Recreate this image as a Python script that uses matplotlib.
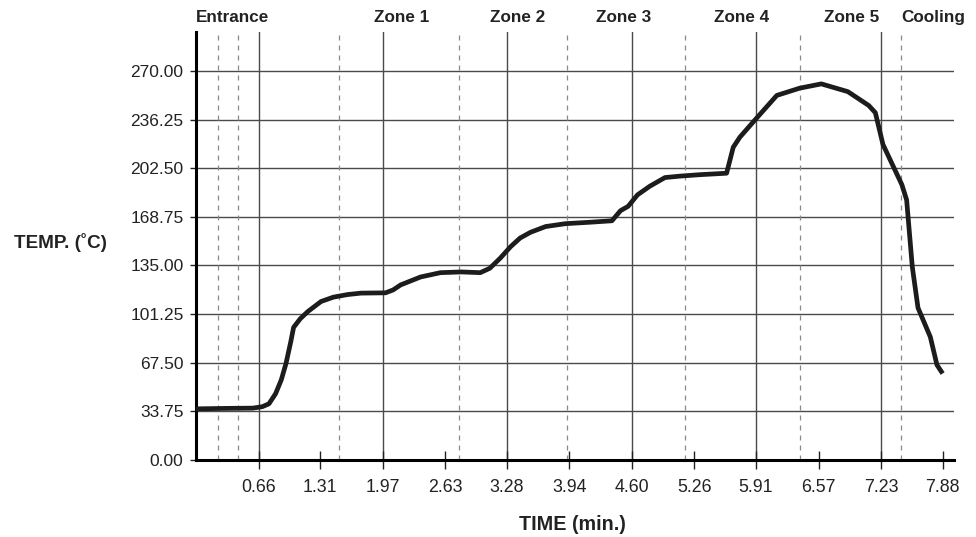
import matplotlib.pyplot as plt
from matplotlib.transforms import blended_transform_factory

plt.rcParams['font.family'] = ['Liberation Sans', 'DejaVu Sans']

# reflow profile
time_min = [0.0, 0.3, 0.6, 0.7, 0.77, 0.84, 0.9, 0.95, 1.0, 1.03, 1.1, 1.18, 1.32,
            1.45, 1.6, 1.74, 2.0, 2.08, 2.16, 2.37, 2.58, 2.8, 3.0, 3.1, 3.21,
            3.32, 3.42, 3.53, 3.69, 3.9, 4.16, 4.39, 4.48, 4.56, 4.66, 4.79,
            4.95, 5.11, 5.32, 5.6, 5.67, 5.74, 5.9, 6.13, 6.37, 6.6, 6.88,
            7.1, 7.17, 7.25, 7.45, 7.5, 7.56, 7.62, 7.75, 7.82, 7.88]
temp_c = [35.5, 35.8, 36.0, 37.0, 39.0, 46.0, 55.6, 67.0, 82.0, 92.0, 98.0, 103.0, 110.0,
          113.0, 114.8, 115.8, 116.0, 118.0, 121.5, 127.0, 130.0, 130.5, 130.0, 133.0, 140.0,
          148.0, 154.0, 158.0, 162.0, 164.0, 165.0, 166.0, 173.0, 176.0, 184.0, 190.0,
          196.0, 197.0, 198.0, 199.0, 217.0, 224.0, 236.0, 253.0, 258.0, 261.0, 255.6,
          246.0, 241.0, 219.0, 191.0, 180.5, 134.0, 105.6, 85.4, 66.0, 60.0]

x_ticks = [0.66, 1.31, 1.97, 2.63, 3.28, 3.94, 4.60, 5.26, 5.91, 6.57, 7.23, 7.88]
solid_lines = [0.66, 1.97, 3.28, 4.60, 5.91, 7.23]
y_ticks = [0.0, 33.75, 67.5, 101.25, 135.0, 168.75, 202.5, 236.25, 270.0]
zone_bounds = [0.23, 0.44, 1.51, 2.78, 3.92, 5.16, 6.37, 7.44]
zone_names = ['Entrance', 'Zone 1', 'Zone 2', 'Zone 3', 'Zone 4', 'Zone 5', 'Cooling']
zone_label_x = [0.38, 2.17, 3.39, 4.51, 5.76, 6.92, 7.78]

fig = plt.figure(figsize=(9.76, 5.37), dpi=100)
ax = fig.add_axes([196 / 976, 77 / 537, 758 / 976, 428 / 537])

ax.set_xlim(0, 8.0)
ax.set_ylim(0, 297)

for y in y_ticks[1:]:
    ax.axhline(y, color='#4a4a4a', lw=1.0, zorder=1)
for x in solid_lines:
    ax.axvline(x, color='#4a4a4a', lw=1.0, zorder=1)
for x in zone_bounds:
    ax.axvline(x, color='#8a8a8a', lw=0.9, ls=(0, (4, 4)), zorder=1)

ax.plot(time_min, temp_c, color='#1c1c1c', lw=3.4, solid_joinstyle='round',
        solid_capstyle='butt', zorder=3)

ax.spines['top'].set_visible(False)
ax.spines['right'].set_visible(False)
ax.spines['left'].set_linewidth(2.2)
ax.spines['bottom'].set_linewidth(2.2)

ax.set_xticks(x_ticks)
ax.set_xticklabels([f'{v:.2f}' for v in x_ticks])
ax.set_yticks(y_ticks)
ax.set_yticklabels([f'{v:.2f}' for v in y_ticks])
ax.tick_params(axis='x', direction='inout', length=13, width=1.0, pad=7,
               labelsize=12.8, colors='#222222')
ax.tick_params(axis='y', direction='out', length=4, width=1.0, pad=5,
               labelsize=12.5, colors='#222222')

trans = blended_transform_factory(ax.transData, ax.transAxes)
for name, x in zip(zone_names, zone_label_x):
    ax.text(x, 1.033, name, transform=trans, ha='center', va='center',
            fontsize=12.3, fontweight='bold', color='#222222', clip_on=False)

fig.text(572 / 976, 1 - 524 / 537, 'TIME (min.)', ha='center', va='center',
         fontsize=14.2, fontweight='bold', color='#222222')
fig.text(61 / 976, 1 - 243 / 537, 'TEMP. (˚C)', ha='center', va='center',
         fontsize=13.6, fontweight='bold', color='#222222')

fig.savefig('out.png', dpi=100)
